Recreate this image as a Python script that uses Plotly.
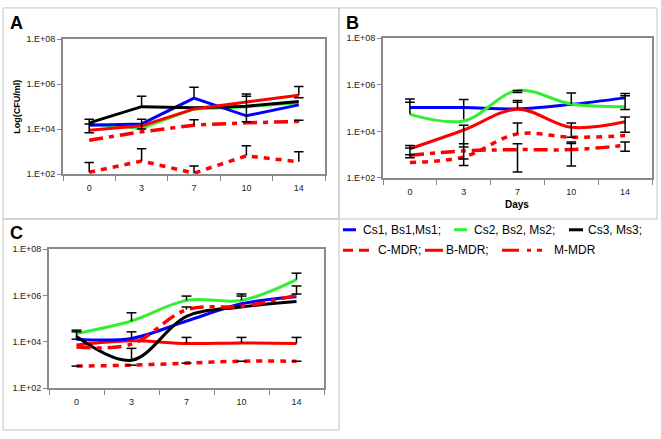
import plotly.graph_objects as go

# ---------------- data ----------------
days = ["0", "3", "7", "10", "14"]
ytick_vals = [1e2, 1e4, 1e6, 1e8]
ytick_text = ["1.E+02", "1.E+04", "1.E+06", "1.E+08"]

legend_labels = {
    "s1": "Cs1, Bs1,Ms1;",
    "s2": "Cs2, Bs2, Ms2;",
    "s3": "Cs3, Ms3;",
    "c": "C-MDR;",
    "b": "B-MDR;",
    "m": "M-MDR",
}

# Panel A (CFU/ml)
a_s1 = [1.5e4, 1.7e4, 2.4e5, 3.9e4, 1.2e5]
a_s2 = [1.7e4, 1.1e4, 7.9e4, 1.0e5, 1.5e5]
a_s3 = [1.9e4, 1.0e5, 8.9e4, 1.05e5, 1.7e5]
a_b = [8.9e3, 1.4e4, 7.9e4, 1.6e5, 3.2e5]
a_m = [3.2e3, 7.6e3, 1.5e4, 1.9e4, 2.2e4]
a_c = [1.2e2, 3.8e2, 1.1e2, 6.5e2, 3.5e2]

# Panel B
b_s1 = [1.05e5, 1.05e5, 9.3e4, 1.45e5, 2.75e5]
b_s2 = [5.4e4, 2.8e4, 5.75e5, 1.5e5, 1.15e5]
b_b = [1.8e3, 1.15e4, 8.9e4, 1.5e4, 2.6e4]
b_c = [4.6e2, 8.1e2, 7.8e3, 5.6e3, 6.6e3]
b_m = [9.5e2, 1.45e3, 1.65e3, 1.65e3, 2.5e3]

# Panel C
c_s1 = [1.3e4, 1.4e4, 7.9e4, 4.4e5, 8.9e5]
c_s2 = [2.3e4, 7.9e4, 6.2e5, 6.2e5, 4.9e6]
c_s3 = [1.7e4, 1.6e3, 1.25e5, 3.2e5, 5.5e5]
c_b = [7.2e3, 1.1e4, 8.5e3, 8.9e3, 8.5e3]
c_c = [8.9e2, 9.8e2, 1.2e3, 1.45e3, 1.45e3]
c_m = [5.9e3, 7.9e3, 2.45e5, 3.4e5, 1.05e6]

# Error bars: day, low, high, bottom cap (1/0)
a_err_day = ["0", "0", "0", "3", "3", "3", "7", "7", "7", "10", "10", "10", "14", "14", "14", "14"]
a_err_lo = [6.8e3, 1.7e4, 1.2e2, 1.0e5, 1.0e4, 3.8e2, 2.4e5, 1.5e4, 1.1e2, 2.1e4, 2.9e5, 6.5e2, 3.2e5, 2.5e5, 2.2e4, 3.5e2]
a_err_hi = [2.75e4, 1.7e4, 3.3e2, 2.9e5, 2.75e4, 1.35e3, 7.2e5, 2.6e4, 2.3e2, 3.6e5, 2.9e5, 1.8e3, 7.8e5, 2.5e5, 2.5e4, 9.8e2]
a_err_shoe = [1, 0, 0, 0, 1, 0, 0, 0, 0, 1, 0, 0, 0, 0, 0, 0]

b_err_day = ["0", "0", "0", "0", "0", "3", "3", "3", "3", "3", "7", "7", "7", "7", "7",
             "10", "10", "10", "10", "14", "14", "14", "14"]
b_err_lo = [5.4e4, 1.8e5, 7.4e2, 1.95e3, 1.0e3, 3.3e4, 3.4e2, 2.95e3, 2.15e3, 6.5e2, 4.7e5, 8.9e4, 1.8e5, 7.8e3, 1.8e2,
            1.45e5, 5.6e3, 3.3e2, 3.0e3, 8.7e4, 3.4e5, 9.1e3, 1.4e3]
b_err_hi = [2.45e5, 1.8e5, 2.5e3, 1.95e3, 1.0e3, 2.35e5, 1.85e4, 2.95e3, 2.15e3, 6.5e2, 5.75e5, 2.1e5, 1.8e5, 2.3e4, 2.95e3,
            4.5e5, 2.3e4, 3.5e3, 3.0e3, 4.2e5, 3.4e5, 4.2e4, 3.5e3]
b_err_shoe = [0, 0, 1, 0, 0, 0, 1, 0, 0, 0, 1, 0, 0, 0, 1,
              0, 1, 1, 0, 1, 0, 1, 1]

c_err_day = ["0", "0", "3", "3", "3", "7", "7", "7", "10", "10", "10", "14", "14", "14", "14",
             "0", "3", "7", "10", "14"]
c_err_lo = [1.3e4, 2.7e4, 7.9e4, 1.4e4, 1.6e3, 6.2e5, 2.45e5, 8.5e3, 6.2e5, 9.5e5, 8.9e3, 4.9e6, 1.05e6, 1.17e6, 8.5e3,
            8.9e2, 9.8e2, 1.2e3, 1.45e3, 1.45e3]
c_err_hi = [3.2e4, 2.7e4, 1.8e5, 2.7e4, 5.2e3, 9.5e5, 3.2e5, 1.55e4, 1.17e6, 9.5e5, 1.55e4, 9.3e6, 2.6e6, 1.17e6, 1.55e4,
            8.9e2, 9.8e2, 1.2e3, 1.45e3, 1.45e3]
c_err_shoe = [1, 0, 0, 0, 1, 0, 0, 0, 0, 0, 0, 0, 0, 0, 0,
              0, 0, 0, 0, 0]

# ---------------- styles ----------------
RED = "#ff0000"
styles = {
    "s1": dict(color="#0000ff", dash="solid", width=3),
    "s2": dict(color="#33ee33", dash="solid", width=3),
    "s3": dict(color="#000000", dash="solid", width=3),
    "b": dict(color=RED, dash="solid", width=3),
    "c": dict(color=RED, dash="6px,6px", width=3.5),
    "m": dict(color=RED, dash="14px,6px,5px,6px", width=3.5),
}

FONT = "Liberation Sans, Arial, sans-serif"
W, H = 661, 439

fig = go.Figure()
xpos = list(range(len(days)))


def add_series(values, key, xa, ya, shape):
    fig.add_trace(go.Scatter(
        x=xpos, y=values, mode="lines", xaxis=xa, yaxis=ya,
        line=dict(color=styles[key]["color"], dash=styles[key]["dash"],
                  width=styles[key]["width"], shape=shape, smoothing=1.0),
        name=legend_labels[key], showlegend=False, hoverinfo="skip"))


def add_whiskers(err_day, lo, hi, shoe, xa, ya, w=0.09):
    X, Y = [], []
    for d, l, h, s in zip(err_day, lo, hi, shoe):
        x = days.index(d)
        X += [x, x, None, x - w, x + w, None]
        Y += [l, h, None, h, h, None]
        if s:
            X += [x - w, x + w, None]
            Y += [l, l, None]
    fig.add_trace(go.Scatter(x=X, y=Y, mode="lines", xaxis=xa, yaxis=ya,
                             line=dict(color="black", width=1.5),
                             showlegend=False, hoverinfo="skip"))


# Panel A
for vals, key in [(a_c, "c"), (a_m, "m"), (a_s2, "s2"), (a_s1, "s1"), (a_s3, "s3"), (a_b, "b")]:
    add_series(vals, key, "x", "y", "linear")
add_whiskers(a_err_day, a_err_lo, a_err_hi, a_err_shoe, "x", "y")

# Panel B
for vals, key in [(b_c, "c"), (b_m, "m"), (b_s1, "s1"), (b_s2, "s2"), (b_b, "b")]:
    add_series(vals, key, "x2", "y2", "spline")
add_whiskers(b_err_day, b_err_lo, b_err_hi, b_err_shoe, "x2", "y2")

# Panel C
for vals, key in [(c_c, "c"), (c_b, "b"), (c_s1, "s1"), (c_s3, "s3"), (c_s2, "s2"), (c_m, "m")]:
    add_series(vals, key, "x3", "y3", "spline")
add_whiskers(c_err_day, c_err_lo, c_err_hi, c_err_shoe, "x3", "y3")

# ---------------- axes ----------------
AX = "#8a8a8a"


def px_dom(a, b, total, flip=False):
    if flip:
        return [1 - b / total, 1 - a / total]
    return [a / total, b / total]


def xax(dom, anchor):
    return dict(domain=dom, anchor=anchor, range=[-0.5, len(days) - 0.5],
                tickmode="array", tickvals=xpos, ticktext=days,
                ticks="outside", ticklen=4, tickcolor="rgba(0,0,0,0)",
                showline=True, mirror=True, linecolor=AX, linewidth=2,
                showgrid=False, zeroline=False, fixedrange=True,
                tickfont=dict(family=FONT, size=9, color="#222222"),
                minor=dict(tickmode="array",
                           tickvals=[i - 0.5 for i in range(len(days) + 1)],
                           ticks="outside", ticklen=5, tickcolor=AX, tickwidth=1,
                           showgrid=False))


def yax(dom, anchor):
    return dict(domain=dom, anchor=anchor, type="log", range=[2, 8],
                tickmode="array", tickvals=ytick_vals, ticktext=ytick_text,
                ticks="outside", ticklen=4, tickcolor=AX,
                showline=True, mirror=True, linecolor=AX, linewidth=2,
                showgrid=False, zeroline=False, fixedrange=True,
                tickfont=dict(family=FONT, size=9, color="#222222"))


fig.update_layout(
    width=W, height=H, margin=dict(l=0, r=0, t=0, b=0),
    paper_bgcolor="white", plot_bgcolor="white", showlegend=False,
    xaxis=xax(px_dom(63, 325, W), "y"),
    yaxis=yax(px_dom(35, 173, H, True), "x"),
    xaxis2=xax(px_dom(383, 652, W), "y2"),
    yaxis2=yax(px_dom(34, 177, H, True), "x2"),
    xaxis3=xax(px_dom(49, 324, W), "y3"),
    yaxis3=yax(px_dom(250, 392, H, True), "x3"),
)

# ---------------- frames, titles, legend ----------------
shapes = []
for (x0, y0, x1, y1) in [(3, 3, 339, 219), (339, 3, 657, 219), (3, 219, 339, 435)]:
    shapes.append(dict(type="rect", xref="paper", yref="paper",
                       x0=x0 / W, x1=x1 / W, y0=1 - y1 / H, y1=1 - y0 / H,
                       line=dict(color="#c4c4c4", width=1), layer="below"))

annotations = []
for txt, x, y in [("A", 16, 18), ("B", 352, 18), ("C", 16, 233)]:
    annotations.append(dict(text="<b>%s</b>" % txt, x=x / W, y=1 - y / H, xref="paper", yref="paper",
                            showarrow=False, font=dict(family=FONT, size=18, color="black"),
                            xanchor="center", yanchor="middle"))
annotations.append(dict(text="<b>Log(CFU/ml)</b>", x=17 / W, y=1 - 104 / H, xref="paper", yref="paper",
                        textangle=-90, showarrow=False, font=dict(family=FONT, size=9, color="black"),
                        xanchor="center", yanchor="middle"))
annotations.append(dict(text="<b>Days</b>", x=517 / W, y=1 - 204 / H, xref="paper", yref="paper",
                        showarrow=False, font=dict(family=FONT, size=10, color="black"),
                        xanchor="center", yanchor="middle"))

legend_items = [
    ("s1", 343, 356, 361, 230),
    ("s2", 454, 467, 472, 230),
    ("s3", 569, 583, 586, 230),
    ("c", 343, 369, 376, 251),
    ("b", 425, 443, 444, 251),
    ("m", 502, 542, 552, 251),
]
legend_dash = {"c": "10px,6px", "m": "17px,8px,4px,6px,5px"}
for key, sx0, sx1, tx, ty in legend_items:
    st = styles[key]
    shapes.append(dict(type="line", xref="paper", yref="paper",
                       x0=sx0 / W, x1=sx1 / W, y0=1 - ty / H, y1=1 - ty / H,
                       line=dict(color=st["color"], width=3, dash=legend_dash.get(key, "solid"))))
    annotations.append(dict(text=legend_labels[key], x=tx / W, y=1 - ty / H, xref="paper", yref="paper",
                            showarrow=False, font=dict(family=FONT, size=12, color="black"),
                            xanchor="left", yanchor="middle"))

fig.update_layout(shapes=shapes, annotations=annotations)
fig.write_html("out.html",
               config={"displayModeBar": False, "staticPlot": True},
               post_script="document.documentElement.style.margin='0';"
                           "document.body.style.margin='0';"
                           "document.body.style.overflow='hidden';")
